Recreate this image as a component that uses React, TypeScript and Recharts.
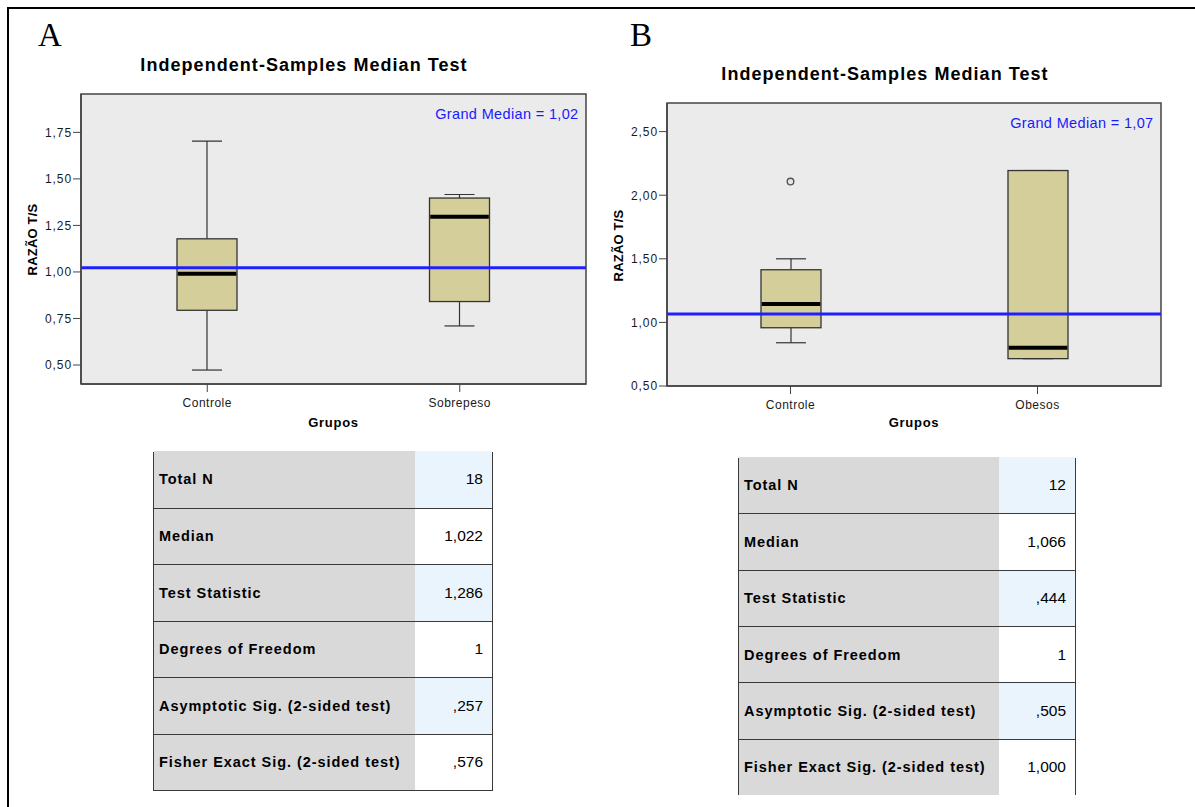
import React from 'react'
import { ComposedChart, Bar, XAxis, YAxis, ReferenceLine, ReferenceArea, Scatter } from 'recharts'

// Painel A: Controle x Sobrepeso
const groupsA = ['Controle', 'Sobrepeso']
const lowA = [0.473, 0.71]
const q1A = [0.794, 0.841]
const medA = [0.99, 1.296]
const q3A = [1.178, 1.397]
const highA = [1.703, 1.416]
const outlierA = [null, null]
const grandMedianA = 1.022
const ticksA = [0.5, 0.75, 1.0, 1.25, 1.5, 1.75]
const domainA: [number, number] = [0.398, 1.956]

// Painel B: Controle x Obesos
const groupsB = ['Controle', 'Obesos']
const lowB = [0.84, 0.715]
const q1B = [0.958, 0.715]
const medB = [1.144, 0.801]
const q3B = [1.414, 2.194]
const highB = [1.5, 2.194]
const outlierB = [2.107, null]
const grandMedianB = 1.066
const ticksB = [0.5, 1.0, 1.5, 2.0, 2.5]
const domainB: [number, number] = [0.5, 2.725]

const statLabels = [
  'Total N',
  'Median',
  'Test Statistic',
  'Degrees of Freedom',
  'Asymptotic Sig. (2-sided test)',
  'Fisher Exact Sig. (2-sided test)',
]
const statsA = ['18', '1,022', '1,286', '1', ',257', ',576']
const statsB = ['12', '1,066', ',444', '1', ',505', '1,000']

const FONT = '"Liberation Sans", Arial, sans-serif'
const fmt = (v: number) => v.toFixed(2).replace('.', ',')

function buildRows(groups: string[], low: number[], q1: number[], med: number[], q3: number[], high: number[], out: (number | null)[]) {
  return groups.map((g, i) => ({
    group: g, range: [low[i], high[i]], q1: q1[i], med: med[i], q3: q3[i], outlier: out[i] ?? undefined,
  }))
}

function BoxShape(props: any) {
  const { x, y, width, height, payload } = props
  const [lo, hi] = payload.range
  const py = (v: number) => y + (height * (hi - v)) / (hi - lo)
  const cx = x + width / 2
  const top = py(payload.q3)
  const bot = py(payload.q1)
  const med = py(payload.med)
  const cap = width / 4
  return (
    <g>
      <line x1={cx} x2={cx} y1={y} y2={y + height} stroke="#333" strokeWidth={1.2} />
      <line x1={cx - cap} x2={cx + cap} y1={y} y2={y} stroke="#333" strokeWidth={1.2} />
      <line x1={cx - cap} x2={cx + cap} y1={y + height} y2={y + height} stroke="#333" strokeWidth={1.2} />
      <rect x={x} y={top} width={width} height={bot - top} fill="#d4cf9a" stroke="#333" strokeWidth={1.3} />
      <line x1={x + 0.7} x2={x + width - 0.7} y1={med} y2={med} stroke="#000" strokeWidth={4} />
    </g>
  )
}

function OutlierShape(props: any) {
  const { cx, cy, payload } = props
  if (payload?.outlier == null || cy == null || Number.isNaN(cy)) return <g />
  return <circle cx={cx} cy={cy} r={3.3} fill="#e6e6e6" stroke="#555" strokeWidth={1.4} />
}

function YTick(props: any) {
  const { x, y, payload } = props
  return (
    <text x={x} y={y} dy="0.36em" textAnchor="end" fontSize={12} fontFamily={FONT} fill="#1a1a1a" style={{ letterSpacing: '0.9px' }}>
      {fmt(payload.value)}
    </text>
  )
}

function XTick(props: any) {
  const { x, y, payload } = props
  return (
    <text x={x} y={y} dy="0.72em" textAnchor="middle" fontSize={12} fontFamily={FONT} fill="#1a1a1a" style={{ letterSpacing: '0.5px' }}>
      {payload.value}
    </text>
  )
}

function MedianChart({ rows, ticks, domain, grandMedian, width, height, margin, xHeight }: any) {
  const hasOutliers = rows.some((r: any) => r.outlier != null)
  return (
    <ComposedChart width={width} height={height} data={rows} margin={margin}>
      <XAxis dataKey="group" type="category" height={xHeight} tick={<XTick />} tickSize={8} tickMargin={6}
        axisLine={{ stroke: '#444', strokeWidth: 1.5 }} tickLine={{ stroke: '#444' }} />
      <YAxis type="number" domain={domain} ticks={ticks} allowDataOverflow width={60} tick={<YTick />}
        tickSize={8} tickMargin={1} interval={0} axisLine={{ stroke: '#444', strokeWidth: 1.5 }} tickLine={{ stroke: '#444' }} />
      <ReferenceArea y1={domain[0]} y2={domain[1]} fill="#ebebeb" fillOpacity={1} stroke="#444" strokeWidth={1.5} />
      <Bar dataKey="range" barSize={60} shape={<BoxShape />} isAnimationActive={false} />
      {hasOutliers && (
        <Scatter dataKey="outlier" shape={<OutlierShape />} isAnimationActive={false} />
      )}
      <ReferenceLine y={grandMedian} stroke="#2020ff" strokeWidth={3} />
    </ComposedChart>
  )
}

function StatTable({ left, top, width, labelWidth, rowH, values }: any) {
  return (
    <div style={{ position: 'absolute', left, top, width, height: rowH * 6, boxSizing: 'border-box', border: '1.5px solid #3a3a3a' }}>
      {statLabels.map((lab, i) => (
        <div key={lab} style={{ position: 'absolute', left: 0, right: 0, top: i * rowH - 1.5, height: rowH,
          boxSizing: 'border-box', borderTop: i > 0 ? '1.5px solid #3a3a3a' : 'none', display: 'flex' }}>
          <div style={{ width: labelWidth, background: '#d9d9d9', display: 'flex', alignItems: 'center', paddingLeft: 5,
            boxSizing: 'border-box', fontFamily: FONT, fontWeight: 'bold', fontSize: 14.5, letterSpacing: '0.95px', color: '#000' }}>
            {lab}
          </div>
          <div style={{ flex: 1, background: i % 2 === 0 ? '#eaf4fd' : '#ffffff', display: 'flex', alignItems: 'center',
            justifyContent: 'flex-end', paddingRight: 9, fontFamily: FONT, fontSize: 15.5, color: '#000' }}>
            {values[i]}
          </div>
        </div>
      ))}
    </div>
  )
}

const abs = (left: number, top: number, extra: React.CSSProperties = {}): React.CSSProperties => ({
  position: 'absolute', left, top, ...extra,
})

export default function App() {
  const rowsA = buildRows(groupsA, lowA, q1A, medA, q3A, highA, outlierA)
  const rowsB = buildRows(groupsB, lowB, q1B, medB, q3B, highB, outlierB)
  const titleStyle: React.CSSProperties = { fontFamily: FONT, fontWeight: 'bold', fontSize: 18, lineHeight: '18px',
    letterSpacing: '1.05px', textAlign: 'center', width: 420, color: '#000' }
  const gmStyle: React.CSSProperties = { fontFamily: FONT, fontSize: 14.5, lineHeight: '15px', letterSpacing: '0.35px',
    textAlign: 'right', width: 220, color: '#1a1aff' }
  const yLabStyle: React.CSSProperties = { fontFamily: FONT, fontWeight: 'bold', fontSize: 13, lineHeight: '13px',
    letterSpacing: '0.2px', width: 120, textAlign: 'center', transform: 'rotate(-90deg)', color: '#000' }
  const xLabStyle: React.CSSProperties = { fontFamily: FONT, fontWeight: 'bold', fontSize: 13, lineHeight: '13px',
    letterSpacing: '0.7px', width: 120, textAlign: 'center', color: '#000' }
  const letterStyle: React.CSSProperties = { fontFamily: '"Liberation Serif", "Times New Roman", serif', fontSize: 33,
    lineHeight: '33px', color: '#000' }

  return (
    <div style={{ position: 'absolute', left: 0, top: 0, width: 1195, height: 807, overflow: 'hidden', background: '#fff' }}>
      <div style={abs(7, 7, { width: 1400, height: 1000, borderLeft: '2px solid #000', borderTop: '2px solid #000' })} />

      <div style={abs(38, 19, letterStyle)}>A</div>
      <div style={abs(630, 19, letterStyle)}>B</div>

      <div style={abs(304 - 210, 56, titleStyle)}>Independent-Samples Median Test</div>
      <div style={abs(885 - 210, 65, titleStyle)}>Independent-Samples Median Test</div>

      <div style={abs(0, 80)}>
        <MedianChart rows={rowsA} ticks={ticksA} domain={domainA} grandMedian={grandMedianA}
          width={600} height={330} margin={{ top: 14, right: 14, bottom: 0, left: 21 }} xHeight={26} />
      </div>
      <div style={abs(590, 90)}>
        <MedianChart rows={rowsB} ticks={ticksB} domain={domainB} grandMedian={grandMedianB}
          width={590} height={330} margin={{ top: 13, right: 19, bottom: 0, left: 17 }} xHeight={34} />
      </div>

      <div style={abs(578.5 - 220, 107, gmStyle)}>Grand Median = 1,02</div>
      <div style={abs(1153.5 - 220, 115.5, gmStyle)}>Grand Median = 1,07</div>

      <div style={abs(32 - 60, 239 - 6.5, yLabStyle)}>RAZÃO T/S</div>
      <div style={abs(618 - 60, 245 - 6.5, yLabStyle)}>RAZÃO T/S</div>

      <div style={abs(333.5 - 60, 415.5, xLabStyle)}>Grupos</div>
      <div style={abs(914 - 60, 416, xLabStyle)}>Grupos</div>

      <StatTable left={153} top={451.5} width={340} labelWidth={261} rowH={56.5} values={statsA} />
      <StatTable left={738} top={457.5} width={338} labelWidth={260} rowH={56.33} values={statsB} />
    </div>
  )
}
